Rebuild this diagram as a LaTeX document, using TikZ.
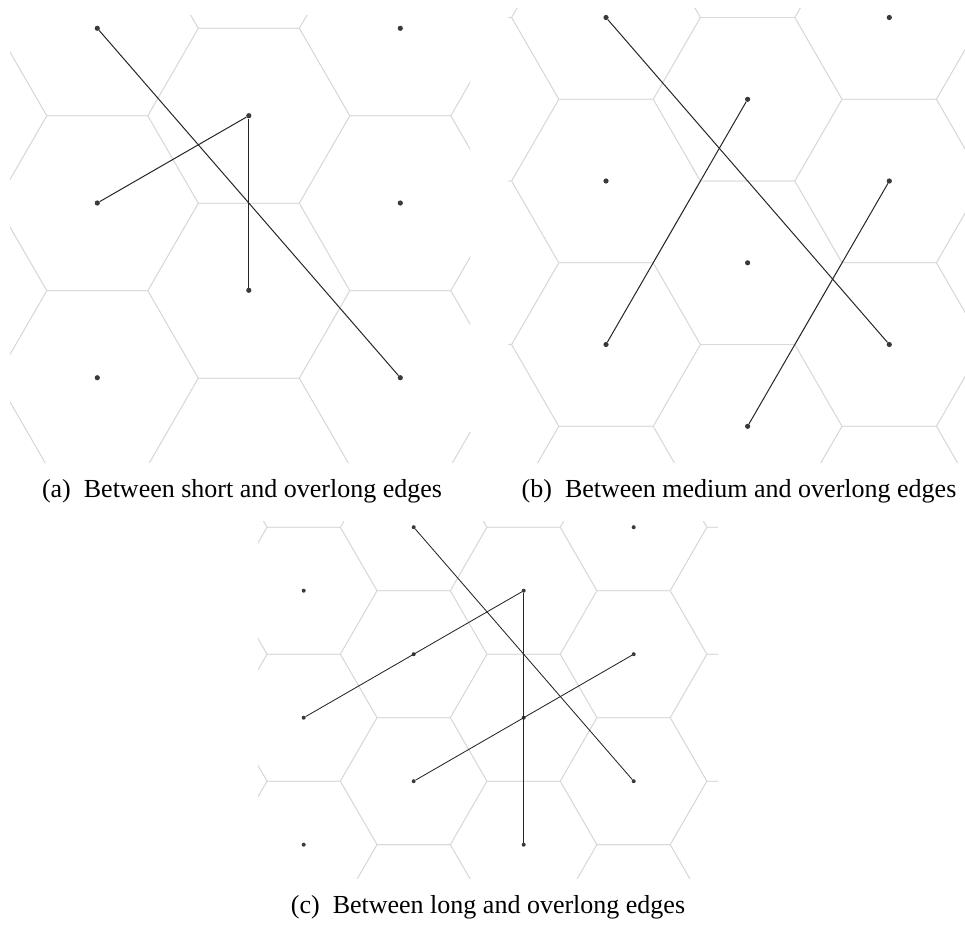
\documentclass[tikz,border=0pt]{standalone}
\usepackage{fontspec}
\setmainfont{Liberation Serif}
\definecolor{hexgray}{HTML}{D9D9D9}
\definecolor{dotgray}{HTML}{3A3A3A}
\definecolor{edgegray}{HTML}{262626}
\newcommand{\myhexgrid}[9]{%
  % #1 x0, #2 y0, #3 R, #4-#7 clip rect, #8 i range, #9 j range
  \begin{scope}
    \clip (#4,#5) rectangle (#6,#7);
    \foreach \i in {#8}{
      \foreach \j in {#9}{
        \pgfmathsetmacro{\cx}{#1+1.5*#3*\i}
        \pgfmathsetmacro{\cy}{#2+1.7320508*#3*\j+0.8660254*#3*abs(mod(\i,2))}
        \pgfmathsetmacro{\hh}{0.8660254*#3}
        \pgfmathsetmacro{\rr}{#3}
        \pgfmathsetmacro{\rh}{0.5*#3}
        \draw[hexline] (\cx+\rr,\cy) -- (\cx+\rh,\cy+\hh) -- (\cx-\rh,\cy+\hh)
          -- (\cx-\rr,\cy) -- (\cx-\rh,\cy-\hh) -- (\cx+\rh,\cy-\hh) -- cycle;
      }
    }
  \end{scope}}
\begin{document}
\begin{tikzpicture}[x=1pt,y=-1pt,
  hexline/.style={draw=hexgray, line width=0.8pt, line join=miter},
  dotA/.style={circle, fill=dotgray, inner sep=0pt, minimum size=5.2pt},
  dotC/.style={circle, fill=dotgray, inner sep=0pt, minimum size=4pt},
  edgeA/.style={draw=edgegray, line width=1pt},
  edgeC/.style={draw=edgegray, line width=0.85pt},
  captxt/.style={anchor=base, inner sep=0pt, font=\fontsize{26}{31}\selectfont}]
\useasboundingbox (0,0) rectangle (965,927);
% ---------- panel (a) ----------
\myhexgrid{97.3}{28.3}{101}{10}{15}{470}{462}{-1,...,4}{-1,...,3}
\node[dotA] (a1) at (97.3,28.3) {};
\node[dotA] (a2) at (248.8,115.7) {};
\node[dotA] (a3) at (400.3,28.3) {};
\node[dotA] (a4) at (97.3,203) {};
\node[dotA] (a5) at (400.3,203) {};
\node[dotA] (a6) at (248.8,290.3) {};
\node[dotA] (a7) at (97.3,377.7) {};
\node[dotA] (a8) at (400.3,377.7) {};
\draw[edgeA] (a1) -- (a8);
\draw[edgeA] (a4) -- (a2);
\draw[edgeA] (a2) -- (a6);
\node[captxt] (capa) at (242,497) {(a)\hspace{0.5em}Between short and overlong edges};
% ---------- panel (b) ----------
\myhexgrid{606}{17.5}{94.4}{508}{8}{965}{462}{-2,...,3}{-1,...,3}
\node[dotA] (b1) at (606,17.5) {};
\node[dotA] (b2) at (747.6,99.3) {};
\node[dotA] (b3) at (889.3,17.5) {};
\node[dotA] (b4) at (606,181) {};
\node[dotA] (b5) at (889.3,181) {};
\node[dotA] (b6) at (747.6,262.8) {};
\node[dotA] (b7) at (606,344.5) {};
\node[dotA] (b8) at (889.3,344.5) {};
\node[dotA] (b9) at (747.6,426.3) {};
\draw[edgeA] (b1) -- (b8);
\draw[edgeA] (b2) -- (b7);
\draw[edgeA] (b5) -- (b9);
\node[captxt] (capb) at (739,497) {(b)\hspace{0.5em}Between medium and overlong edges};
% ---------- panel (c) ----------
\myhexgrid{303.7}{590.7}{73.3}{258}{521.7}{718}{878}{-2,...,5}{-2,...,3}
\node[dotC] (c1) at (413.7,527.2) {};
\node[dotC] (c2) at (633.7,527.2) {};
\node[dotC] (c3) at (303.7,590.7) {};
\node[dotC] (c4) at (523.7,590.7) {};
\node[dotC] (c5) at (413.7,654.2) {};
\node[dotC] (c6) at (633.7,654.2) {};
\node[dotC] (c7) at (303.7,717.7) {};
\node[dotC] (c8) at (523.7,717.7) {};
\node[dotC] (c9) at (413.7,781.2) {};
\node[dotC] (c10) at (633.7,781.2) {};
\node[dotC] (c11) at (303.7,844.7) {};
\node[dotC] (c12) at (523.7,844.7) {};
\draw[edgeC] (c1) -- (c10);
\draw[edgeC] (c7) -- (c4);
\draw[edgeC] (c4) -- (c12);
\draw[edgeC] (c9) -- (c6);
\node[captxt] (capc) at (488,913) {(c)\hspace{0.5em}Between long and overlong edges};
\end{tikzpicture}
\end{document}
